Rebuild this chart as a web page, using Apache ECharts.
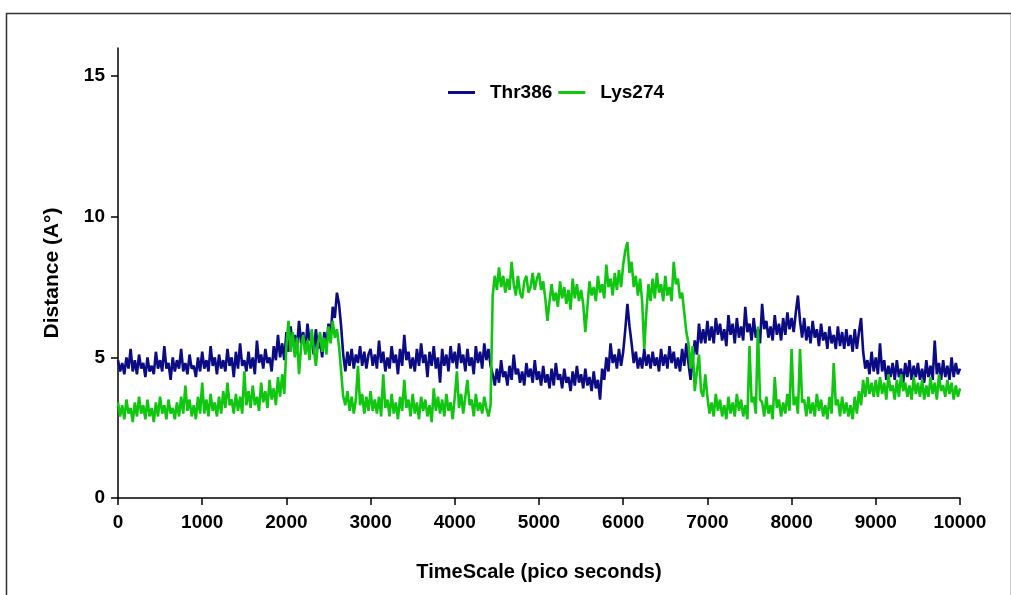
<!DOCTYPE html>
<html>
<head>
<meta charset="utf-8">
<script src="https://cdn.jsdelivr.net/npm/echarts@6/dist/echarts.min.js"></script>
<style>
html,body{margin:0;padding:0;background:#fff;}
#chart{width:1011px;height:595px;}
</style>
</head>
<body>
<div id="chart"></div>
<script>
// Sampling grid (ps) and series values (Å)
const TIME_STEP = 25;
const xTicks = [0, 1000, 2000, 3000, 4000, 5000, 6000, 7000, 8000, 9000, 10000];
const yTicks = [0, 5, 10, 15];
const seriesNames = ['Thr386', 'Lys274'];

const thr386 = [
  4.9,4.5, 4.8,4.4, 5.0,4.6, 5.3,4.5, 4.9,4.4, 5.1,4.6, 4.8,4.3, 5.0,4.5, 4.7,4.4, 5.2,4.6, 4.9,4.5, 5.4,4.6, 4.8,4.2, 5.0,4.5, 4.9,4.6, 5.3,4.5, 4.8,4.4, 5.1,4.6, 4.7,4.3, 5.0,4.5,
  5.2,4.6, 4.9,4.5, 5.4,4.7, 5.0,4.4, 5.1,4.6, 4.9,4.5, 5.3,4.7, 5.0,4.3, 5.2,4.6, 5.5,4.7, 4.9,4.5, 5.2,4.6, 5.0,4.4, 5.6,4.8, 5.1,4.6, 5.3,4.8, 5.0,4.5, 5.4,4.9, 5.8,5.0, 5.5,4.9,
  5.9,5.2, 6.1,5.4, 5.8,5.3, 6.3,5.5, 5.9,5.2, 6.2,5.6, 5.7,5.1, 6.0,5.3, 5.6,5.0, 5.9,5.4, 6.2,5.7, 6.8,6.4, 7.3,6.9, 6.1,5.1, 4.5,5.2, 4.7,5.3, 4.6,5.1, 4.8,5.4, 4.7,5.2, 4.6,5.1,
  5.3,4.7, 5.1,4.6, 5.6,4.8, 5.2,4.5, 5.0,4.6, 5.4,4.8, 5.1,4.4, 5.3,4.7, 5.8,4.9, 5.2,4.6, 5.0,4.5, 5.3,4.7, 5.5,4.8, 5.1,4.3, 5.2,4.7, 5.4,4.6, 5.0,4.1, 5.3,4.7, 5.1,4.5, 5.4,4.8,
  5.2,4.6, 5.5,4.8, 5.1,4.5, 5.3,4.7, 5.0,4.4, 5.4,4.8, 5.2,4.6, 5.5,4.9, 5.3,4.7, 4.4,4.0, 4.6,4.1, 4.9,4.3, 4.5,4.0, 4.7,4.2, 5.1,4.4, 4.6,4.1, 4.5,4.0, 4.8,4.3, 4.6,4.1, 4.9,4.2,
  4.5,4.0, 4.7,4.1, 4.4,3.9, 4.6,4.0, 4.8,4.2, 4.4,3.9, 4.6,4.1, 4.3,3.8, 4.5,4.0, 4.7,4.1, 4.4,3.9, 4.6,4.0, 4.3,3.8, 4.5,3.9, 4.2,3.5, 4.6,4.2, 5.0,4.5, 5.5,4.8, 5.1,4.6, 5.3,4.7,
  5.2,6.0, 6.9,6.1, 5.5,4.8, 5.2,4.6, 5.0,4.6, 5.3,4.7, 5.1,4.6, 5.2,4.7, 5.0,4.5, 5.3,4.7, 5.1,4.6, 5.4,4.8, 5.2,4.6, 5.0,4.5, 5.3,4.7, 5.5,4.8, 4.2,4.9, 5.6,5.1, 6.2,5.5, 6.0,5.5,
  6.3,5.6, 6.1,5.5, 6.4,5.8, 6.2,5.6, 6.0,5.4, 6.5,5.8, 6.2,5.5, 6.4,5.7, 6.1,5.6, 6.8,5.9, 6.2,5.6, 6.4,5.7, 6.0,5.5, 6.9,6.0, 6.3,5.7, 6.1,5.6, 6.5,5.8, 6.2,5.6, 6.4,5.8, 6.6,6.0,
  6.4,5.9, 6.6,7.2, 6.3,5.7, 6.4,5.6, 6.1,5.5, 6.3,5.7, 6.0,5.4, 6.2,5.6, 5.9,5.3, 6.1,5.5, 5.8,5.3, 6.1,5.4, 5.9,5.3, 6.0,5.4, 5.8,5.2, 6.0,5.3, 5.9,6.4, 5.2,4.6, 4.9,4.4, 5.2,4.5,
  5.0,4.4, 5.5,4.5, 4.9,4.2, 4.7,4.3, 4.8,4.2, 4.9,4.3, 4.6,4.1, 4.8,4.3, 4.9,4.2, 4.7,4.3, 4.8,4.2, 4.6,4.1, 4.9,4.3, 4.7,4.2, 5.6,4.4, 4.8,4.2, 4.9,4.3, 4.7,4.2, 5.0,4.3, 4.8,4.4,
  4.6
];

const lys274 = [
  3.4,2.9, 3.3,2.8, 3.5,3.0, 3.2,2.7, 3.4,2.9, 3.6,3.0, 3.3,2.8, 3.5,2.9, 3.2,2.7, 3.4,2.9, 3.6,3.0, 3.3,2.8, 3.5,3.0, 3.2,2.8, 3.4,2.9, 3.6,3.0, 4.0,3.1, 3.5,2.9, 3.3,2.8, 3.6,3.0,
  4.1,3.0, 3.5,2.9, 3.7,3.1, 3.4,2.9, 3.6,3.0, 3.8,3.2, 4.1,3.3, 3.5,3.0, 3.7,3.1, 3.6,3.0, 4.5,3.3, 3.8,3.2, 4.0,3.3, 3.6,3.1, 4.1,3.4, 3.8,3.2, 4.2,3.5, 3.9,3.3, 4.3,3.6, 4.4,3.7,
  5.4,6.3, 5.2,5.9, 5.0,5.7, 4.4,5.4, 5.8,5.1, 5.6,4.9, 6.0,5.3, 4.7,5.5, 5.9,5.2, 5.7,5.1, 6.1,5.5, 6.3,5.7, 6.0,5.4, 4.5,3.6, 3.3,3.8, 3.1,3.6, 3.0,3.5, 4.7,3.3, 3.7,3.0, 3.6,3.1,
  3.8,3.1, 3.5,3.0, 3.6,2.9, 4.4,3.2, 3.5,2.9, 3.7,3.0, 3.4,2.8, 3.6,3.1, 4.2,3.2, 3.5,2.9, 3.7,3.0, 3.4,2.8, 3.6,3.1, 3.5,2.9, 3.3,2.7, 3.9,3.1, 3.6,3.0, 3.5,2.9, 3.7,3.1, 3.4,2.8,
  3.6,4.5, 3.2,3.7, 3.0,3.6, 4.2,3.3, 3.5,2.9, 3.7,3.1, 3.4,3.0, 3.6,3.2, 2.9,3.3, 7.2,7.9, 7.4,8.2, 7.5,7.9, 7.3,7.8, 7.4,8.4, 7.6,7.2, 7.9,7.3, 7.1,7.7, 7.9,7.3, 7.5,8.0, 7.4,7.8,
  8.0,7.4, 7.7,7.1, 6.3,7.0, 7.6,7.0, 7.3,6.8, 7.7,7.1, 7.5,6.9, 7.4,6.7, 7.8,7.1, 7.6,7.0, 7.4,6.9, 5.9,6.8, 7.7,7.2, 7.5,7.0, 7.9,7.3, 7.6,7.1, 8.3,7.5, 7.8,7.2, 8.0,7.4, 8.1,7.5,
  8.3,8.8, 9.1,8.0, 8.4,7.5, 7.9,7.2, 7.8,7.0, 5.3,6.6, 7.6,7.0, 7.8,7.1, 8.0,7.3, 7.6,7.0, 7.9,7.2, 7.5,7.0, 8.4,7.6, 7.8,7.1, 7.3,6.6, 5.9,5.5, 4.6,5.4, 3.8,4.5, 5.1,3.8, 3.6,4.4,
  3.6,3.0, 3.4,2.9, 3.7,3.1, 3.5,2.9, 3.3,2.8, 3.6,3.0, 3.4,2.9, 3.7,3.1, 3.5,2.9, 3.3,2.8, 5.4,3.4, 3.6,3.0, 6.1,3.5, 3.4,2.9, 3.6,3.0, 3.3,2.8, 4.3,3.2, 3.5,2.9, 3.4,3.0, 3.7,3.1,
  5.3,3.3, 3.6,3.0, 5.3,3.4, 3.5,2.9, 3.6,3.0, 3.4,2.9, 3.7,3.1, 3.5,2.9, 3.3,2.8, 3.6,3.0, 4.8,3.3, 3.5,2.9, 3.6,3.0, 3.4,2.9, 3.3,2.8, 3.6,3.0, 3.8,3.3, 4.2,3.6, 4.3,3.7, 4.1,3.6,
  4.2,3.6, 4.3,3.7, 4.1,3.5, 4.4,3.8, 4.0,3.5, 4.2,3.6, 4.4,3.8, 4.1,3.6, 4.0,3.5, 4.3,3.7, 4.1,3.6, 4.2,3.5, 4.0,3.6, 4.3,3.7, 4.1,3.5, 4.4,3.8, 4.0,3.6, 4.2,3.7, 4.1,3.5, 4.0,3.6,
  3.9
];

function toPairs(vals) {
  return vals.map(function (v, i) { return [i * TIME_STEP, v]; });
}

const FONT = '"Liberation Sans", Arial, sans-serif';
const chart = echarts.init(document.getElementById('chart'), null, { renderer: 'canvas' });

chart.setOption({
  backgroundColor: '#ffffff',
  animation: false,
  graphic: [{
    type: 'rect',
    left: 4, top: 11,
    shape: { x: 0, y: 0, width: 1005, height: 600 },
    style: { fill: 'none', stroke: '#333333', lineWidth: 1.5 },
    silent: true, z: -1
  }],
  grid: { left: 118, right: 51, top: 48, bottom: 97, containLabel: false },
  legend: {
    data: seriesNames,
    left: 448, top: 83, padding: 0,
    itemWidth: 27, itemHeight: 14, itemGap: 6,
    icon: 'path://M0,5.5 L27,5.5 L27,8.5 L0,8.5 Z',
    textStyle: { fontFamily: FONT, fontWeight: 'bold', fontSize: 19, color: '#000', padding: [0, 0, 0, 10] }
  },
  xAxis: {
    type: 'value', min: 0, max: 10000, interval: 1000,
    name: 'TimeScale (pico seconds)', nameLocation: 'middle', nameGap: 64,
    nameTextStyle: { fontFamily: FONT, fontWeight: 'bold', fontSize: 20, color: '#000' },
    axisLine: { lineStyle: { color: '#000', width: 1.5 } },
    axisTick: { show: true, inside: false, length: 7, lineStyle: { color: '#000', width: 1.5 }, customValues: xTicks },
    axisLabel: { margin: 15, fontFamily: FONT, fontWeight: 'bold', fontSize: 19, color: '#000', customValues: xTicks,
      formatter: function (v) { return String(v); } },
    splitLine: { show: false }
  },
  yAxis: {
    type: 'value', min: 0, max: 16, interval: 5,
    name: 'Distance (A°)', nameLocation: 'middle', nameGap: 55, nameRotate: 90,
    nameTextStyle: { fontFamily: FONT, fontWeight: 'bold', fontSize: 21, color: '#000' },
    axisLine: { show: true, lineStyle: { color: '#000', width: 1.5 } },
    axisTick: { show: true, inside: false, length: 7, lineStyle: { color: '#000', width: 1.5 }, customValues: yTicks },
    axisLabel: { margin: 13, fontFamily: FONT, fontWeight: 'bold', fontSize: 19, color: '#000', customValues: yTicks },
    splitLine: { show: false }
  },
  series: [
    {
      name: seriesNames[0], type: 'line', data: toPairs(thr386),
      showSymbol: false, symbol: 'none',
      lineStyle: { color: '#0b0b84', width: 2.6 }, itemStyle: { color: '#0b0b84' }
    },
    {
      name: seriesNames[1], type: 'line', data: toPairs(lys274),
      showSymbol: false, symbol: 'none',
      lineStyle: { color: '#11c611', width: 2.6 }, itemStyle: { color: '#11c611' }
    }
  ]
});
</script>
</body>
</html>
